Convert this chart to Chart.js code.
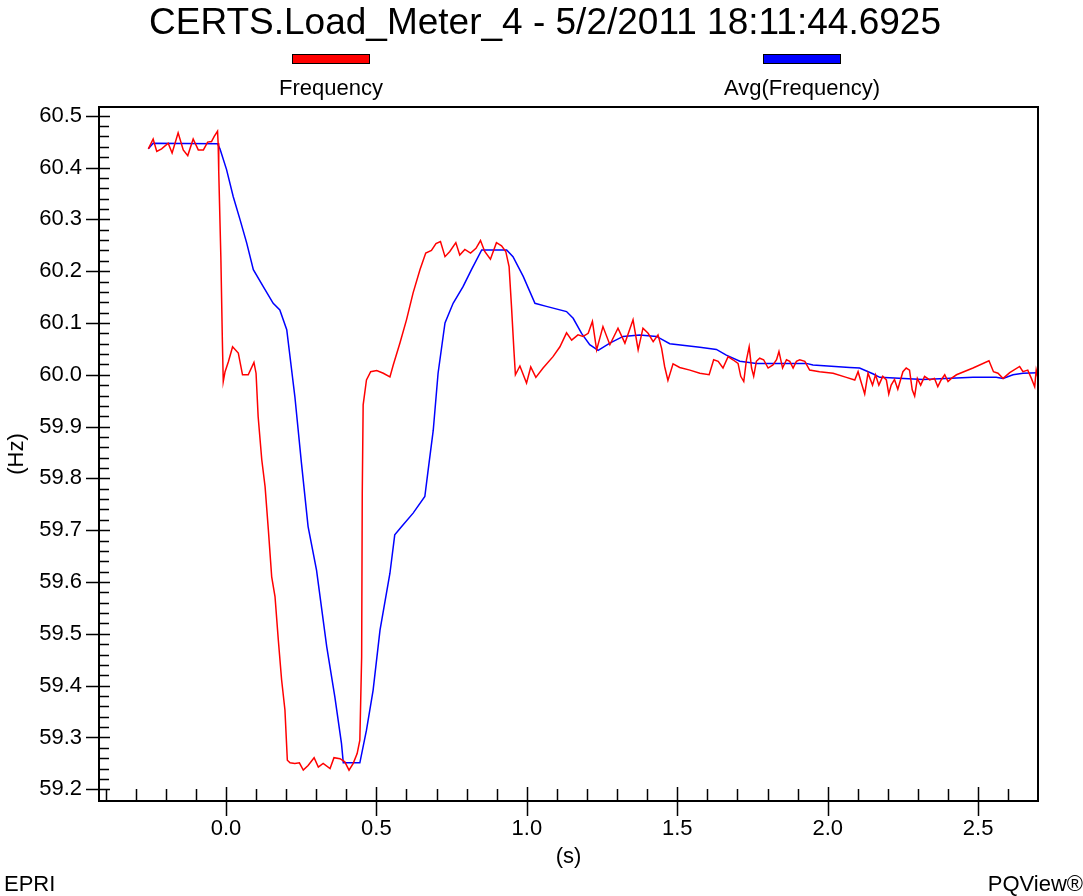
<!DOCTYPE html>
<html>
<head>
<meta charset="utf-8">
<script src="https://cdn.jsdelivr.net/npm/chart.js@4/dist/chart.umd.min.js"></script>
<style>
  body { margin: 0; background: #fff; }
  canvas { display: block; }
</style>
</head>
<body>
<canvas id="myChart" width="1083" height="896"></canvas>
<script>
const FONT = "'Liberation Sans', Arial, sans-serif";
const TITLE = 'CERTS.Load_Meter_4 - 5/2/2011 18:11:44.6925';

// Frequency samples, seconds / Hz
const freqT = [
  -0.258, -0.242, -0.230, -0.214, -0.192, -0.179, -0.159, -0.142, -0.127, -0.109,
  -0.092, -0.075, -0.061, -0.048, -0.039, -0.028, -0.026, -0.024, -0.017, -0.012,
  -0.009, -0.003, 0.008, 0.022, 0.041, 0.055, 0.074, 0.093, 0.100, 0.107,
  0.119, 0.130, 0.141, 0.152, 0.163, 0.174, 0.185, 0.196, 0.204, 0.213,
  0.229, 0.244, 0.257, 0.273, 0.293, 0.307, 0.323, 0.346, 0.359, 0.379,
  0.395, 0.409, 0.423, 0.436, 0.445, 0.451, 0.453, 0.456, 0.467, 0.481,
  0.501, 0.523, 0.545, 0.556, 0.578, 0.600, 0.622, 0.645, 0.664, 0.683,
  0.698, 0.713, 0.728, 0.744, 0.764, 0.777, 0.794, 0.813, 0.831, 0.846,
  0.860, 0.879, 0.899, 0.916, 0.930, 0.941, 0.949, 0.957, 0.962, 0.977,
  0.999, 1.013, 1.030, 1.054, 1.087, 1.110, 1.132, 1.149, 1.170, 1.187,
  1.204, 1.218, 1.232, 1.253, 1.276, 1.303, 1.326, 1.353, 1.370, 1.386,
  1.403, 1.420, 1.436, 1.448, 1.458, 1.469, 1.486, 1.508, 1.542, 1.575,
  1.606, 1.621, 1.636, 1.652, 1.669, 1.685, 1.702, 1.711, 1.721, 1.730,
  1.739, 1.747, 1.754, 1.763, 1.774, 1.787, 1.802, 1.818, 1.830, 1.838,
  1.850, 1.863, 1.874, 1.885, 1.896, 1.907, 1.924, 1.940, 1.973, 2.018,
  2.062, 2.090, 2.101, 2.112, 2.123, 2.134, 2.149, 2.159, 2.170, 2.183,
  2.195, 2.203, 2.211, 2.222, 2.233, 2.250, 2.261, 2.272, 2.281, 2.289,
  2.298, 2.309, 2.322, 2.339, 2.355, 2.366, 2.377, 2.389, 2.400, 2.411,
  2.428, 2.483, 2.536, 2.551, 2.566, 2.583, 2.605, 2.638, 2.649, 2.665,
  2.677, 2.688, 2.693, 2.699
];
const freqHz = [
  60.436, 60.455, 60.431, 60.436, 60.447, 60.428, 60.467, 60.434, 60.423, 60.455,
  60.434, 60.434, 60.449, 60.450, 60.460, 60.470, 60.447, 60.392, 60.228, 60.067,
  59.987, 60.006, 60.025, 60.054, 60.042, 60.000, 60.000, 60.024, 60.003, 59.919,
  59.836, 59.784, 59.700, 59.610, 59.572, 59.488, 59.411, 59.353, 59.256, 59.251,
  59.250, 59.251, 59.237, 59.246, 59.261, 59.243, 59.250, 59.240, 59.261, 59.259,
  59.253, 59.237, 59.250, 59.269, 59.295, 59.456, 59.771, 59.942, 59.990, 60.006,
  60.008, 60.003, 59.996, 60.019, 60.061, 60.106, 60.158, 60.203, 60.235, 60.240,
  60.253, 60.257, 60.228, 60.238, 60.255, 60.231, 60.242, 60.235, 60.244, 60.259,
  60.238, 60.223, 60.255, 60.249, 60.238, 60.209, 60.132, 60.048, 60.000, 60.017,
  59.984, 60.015, 59.995, 60.013, 60.035, 60.054, 60.081, 60.067, 60.077, 60.074,
  60.080, 60.103, 60.048, 60.093, 60.058, 60.090, 60.061, 60.106, 60.048, 60.090,
  60.080, 60.064, 60.077, 60.051, 60.016, 59.989, 60.021, 60.014, 60.009, 60.003,
  60.000, 60.029, 60.026, 60.013, 60.035, 60.029, 60.022, 59.997, 59.987, 60.029,
  60.054, 60.013, 59.997, 60.026, 60.032, 60.029, 60.013, 60.019, 60.029, 60.045,
  60.013, 60.029, 60.026, 60.013, 60.026, 60.029, 60.026, 60.009, 60.006, 60.003,
  59.995, 59.990, 60.006, 59.984, 59.963, 60.003, 59.980, 60.000, 59.980, 59.997,
  59.990, 59.963, 59.980, 59.991, 59.972, 60.006, 60.013, 60.009, 59.971, 59.959,
  59.993, 59.980, 59.997, 59.990, 59.993, 59.977, 59.990, 60.000, 59.987, 59.993,
  60.000, 60.013, 60.027, 60.006, 60.003, 59.993, 60.004, 60.016, 60.006, 60.009,
  59.993, 59.977, 60.009, 59.993
];

// Averaged frequency
const avgT = [
  -0.258, -0.242, -0.028, -0.020, 0.002, 0.024, 0.047, 0.069, 0.091, 0.124,
  0.157, 0.179, 0.202, 0.229, 0.251, 0.273, 0.301, 0.335, 0.362, 0.384,
  0.390, 0.445, 0.467, 0.489, 0.512, 0.545, 0.561, 0.584, 0.622, 0.661,
  0.672, 0.689, 0.705, 0.728, 0.755, 0.788, 0.816, 0.850, 0.933, 0.954,
  0.988, 1.027, 1.065, 1.132, 1.154, 1.182, 1.209, 1.237, 1.276, 1.320,
  1.375, 1.431, 1.475, 1.575, 1.630, 1.663, 1.708, 1.763, 1.929, 1.951,
  2.073, 2.106, 2.150, 2.173, 2.317, 2.483, 2.560, 2.583, 2.616, 2.649,
  2.699
];
const avgHz = [
  60.436, 60.447, 60.446, 60.436, 60.396, 60.344, 60.299, 60.254, 60.203, 60.170,
  60.138, 60.125, 60.087, 59.958, 59.829, 59.707, 59.623, 59.475, 59.378, 59.288,
  59.251, 59.251, 59.314, 59.391, 59.507, 59.617, 59.691, 59.707, 59.733, 59.765,
  59.816, 59.893, 60.003, 60.100, 60.138, 60.170, 60.203, 60.241, 60.241, 60.228,
  60.190, 60.138, 60.132, 60.122, 60.109, 60.080, 60.058, 60.047, 60.061, 60.074,
  60.077, 60.074, 60.060, 60.053, 60.049, 60.038, 60.026, 60.022, 60.022, 60.019,
  60.014, 60.013, 60.002, 59.995, 59.991, 59.995, 59.995, 59.993, 60.000, 60.003,
  60.004
];

const xTicks = [0.0, 0.5, 1.0, 1.5, 2.0, 2.5];
const yTicks = [59.2, 59.3, 59.4, 59.5, 59.6, 59.7, 59.8, 59.9, 60.0, 60.1, 60.2, 60.3, 60.4, 60.5];

function pts(xs, ys) {
  return xs.map((x, i) => ({ x: x, y: ys[i] }));
}

// title, axis box, PQView-style tick marks, legend and footer
const pqFrame = {
  id: 'pqFrame',
  afterDraw(chart) {
    const ctx = chart.ctx;
    const a = chart.chartArea;
    const xs = chart.scales.x, ys = chart.scales.y;
    ctx.save();

    ctx.fillStyle = '#000';
    ctx.font = '37px ' + FONT;
    ctx.textAlign = 'center';
    ctx.textBaseline = 'alphabetic';
    ctx.fillText(TITLE, 545, 34);

    ctx.strokeStyle = '#000';
    ctx.lineWidth = 2;
    ctx.strokeRect(a.left, a.top, a.right - a.left, a.bottom - a.top);

    ctx.lineWidth = 1.5;
    ctx.beginPath();
    for (let i = -4; i <= 26; i++) {
      const v = i / 10;
      const px = Math.round(xs.getPixelForValue(v)) + 0.5;
      if (i % 5 === 0) {
        ctx.moveTo(px, a.bottom - 14); ctx.lineTo(px, a.bottom + 15);
      } else {
        ctx.moveTo(px, a.bottom - 12); ctx.lineTo(px, a.bottom);
      }
    }
    for (let i = 0; i <= 65; i++) {
      const v = 59.2 + i * 0.02;
      const py = Math.round(ys.getPixelForValue(v)) + 0.5;
      if (i % 5 === 0) {
        ctx.moveTo(a.left - 13, py); ctx.lineTo(a.left + 11, py);
      } else {
        ctx.moveTo(a.left, py); ctx.lineTo(a.left + 10, py);
      }
    }
    ctx.stroke();

    // legend: swatch above label
    const legendX = [331, 802];
    ctx.font = '22px ' + FONT;
    ctx.textBaseline = 'middle';
    chart.data.datasets.forEach((ds, i) => {
      const cx = legendX[i];
      ctx.fillStyle = ds.borderColor;
      ctx.fillRect(cx - 38, 55, 76, 8);
      ctx.lineWidth = 1;
      ctx.strokeStyle = '#000';
      ctx.strokeRect(cx - 38.5, 54.5, 77, 9);
      ctx.fillStyle = '#000';
      ctx.fillText(ds.label, cx, 89);
    });

    ctx.textAlign = 'left';
    ctx.fillText('EPRI', 4, 885);
    ctx.textAlign = 'right';
    ctx.fillText('PQView®', 1083, 885);
    ctx.restore();
  }
};

const data = {
  datasets: [{
    label: 'Frequency',
    data: pts(freqT, freqHz),
    borderColor: 'rgb(255, 0, 0)',
    backgroundColor: 'rgb(255, 0, 0)',
    borderWidth: 1.5,
    pointRadius: 0,
    tension: 0
  }, {
    label: 'Avg(Frequency)',
    data: pts(avgT, avgHz),
    borderColor: 'rgb(0, 0, 255)',
    backgroundColor: 'rgb(0, 0, 255)',
    borderWidth: 1.5,
    pointRadius: 0,
    tension: 0
  }]
};

const config = {
  type: 'line',
  data: data,
  options: {
    responsive: false,
    animation: false,
    layout: { padding: { top: 107, right: 45, bottom: 22, left: 0 } },
    plugins: {
      legend: { display: false },
      tooltip: { enabled: false },
      title: { display: false }
    },
    scales: {
      x: {
        type: 'linear',
        min: -0.422,
        max: 2.699,
        afterBuildTicks: s => { s.ticks = xTicks.map(v => ({ value: v })); },
        afterFit: s => { s.height = 73; },
        grid: { display: false, drawTicks: false },
        border: { display: false },
        ticks: {
          autoSkip: false, maxRotation: 0, padding: 15,
          color: '#000', font: { family: FONT, size: 22 },
          callback: v => v.toFixed(1)
        },
        title: { display: true, text: '(s)', color: '#000', font: { family: FONT, size: 22 } }
      },
      y: {
        min: 59.1774,
        max: 60.5168,
        afterBuildTicks: s => { s.ticks = yTicks.map(v => ({ value: v })); },
        afterFit: s => { s.width = 99; },
        grid: { display: false, drawTicks: false },
        border: { display: false },
        ticks: {
          autoSkip: false, padding: 17,
          color: '#000', font: { family: FONT, size: 22 },
          callback: v => v.toFixed(1)
        },
        title: { display: true, text: '(Hz)', color: '#000', font: { family: FONT, size: 22 } }
      }
    }
  },
  plugins: [pqFrame]
};

const myChart = new Chart(document.getElementById('myChart'), config);
</script>
</body>
</html>
